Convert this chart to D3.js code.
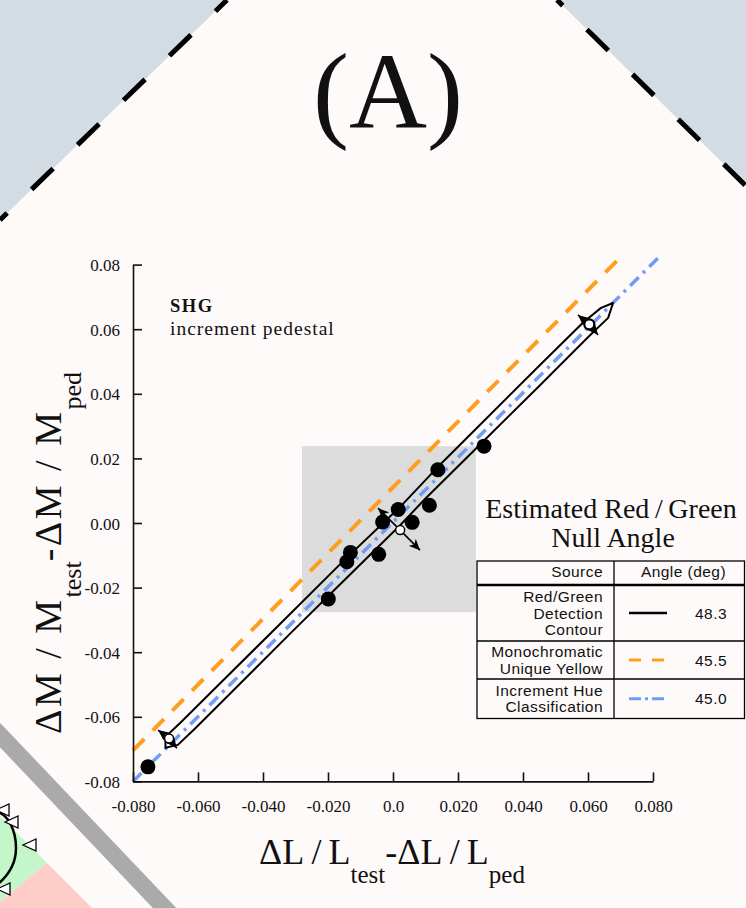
<!DOCTYPE html>
<html><head><meta charset="utf-8">
<script src="https://cdn.jsdelivr.net/npm/d3@7"></script>
<style>body{margin:0;background:#fffafa;} svg{display:block}</style>
</head><body><svg id="c" width="746" height="908"></svg>
<script>
// ---------- data ----------
const xTickValues = [-0.08,-0.06,-0.04,-0.02,0,0.02,0.04,0.06,0.08];
const xTickLabels = ["-0.080","-0.060","-0.040","-0.020","0.0","0.020","0.040","0.060","0.080"];
const yTickValues = [0.08,0.06,0.04,0.02,0,-0.02,-0.04,-0.06,-0.08];
const yTickLabels = ["0.08","0.06","0.04","0.02","0.00","-0.02","-0.04","-0.06","-0.08"];

// detection thresholds (black dots)
const threshX = [-0.0754,-0.0199,-0.0142,-0.0131,-0.0044,-0.0032,0.0016,0.0059,0.0112,0.0138,0.0280];
const threshY = [-0.0755,-0.0235,-0.0120,-0.0091,-0.0097,0.0003,0.0042,0.0002,0.0055,0.0165,0.0238];

// pedestal points (white circles)
const pedX = [-0.0689, 0.0022, 0.0604];
const pedY = [-0.0667, -0.0022, 0.0615];
// arrows from pedestals (index, end x, end y)
const arrowPed = [0,0,1,1,2,2];
const arrowEndX = [-0.0723,-0.0665,-0.0046,0.0083,0.0569,0.0631];
const arrowEndY = [-0.0641,-0.0697,0.0046,-0.0084,0.0644,0.0582];

// detection contour outline (upper edge then lower edge)
const contourX = [-0.0700,-0.0655,-0.0350,-0.0150,0.0022,0.0150,0.0268,0.0450,0.0585,0.0640,0.0677,
                  0.0662,0.0603,0.0450,0.0268,0.0100,0.0022,-0.0150,-0.0308,-0.0480,-0.0609,-0.0662,-0.0700];
const contourY = [-0.0662,-0.0619,-0.0315,-0.0115,0.0050,0.0186,0.0304,0.0487,0.0621,0.0666,0.0681,
                  0.0635,0.0578,0.0424,0.0243,0.0076,-0.0007,-0.0177,-0.0334,-0.0507,-0.0636,-0.0687,-0.0696];

// unique yellow and increment hue lines
const uyX = [-0.08, 0.0700], uyY = [-0.0704, 0.0823];
const ihX = [-0.08, 0.0815], ihY = [-0.08, 0.082];

// zoom box
const boxX = [-0.028, 0.0255], boxY = [-0.0276, 0.0238];

// legend table
const legSource = [["Red/Green","Detection","Contour"],["Monochromatic","Unique Yellow"],["Increment Hue","Classification"]];
const legAngle = ["48.3","45.5","45.0"];

// ---------- drawing ----------
const svg = d3.select("#c");
const W = 746, H = 908;
svg.append("rect").attr("width",W).attr("height",H).attr("fill","#fffafa");

// corner decorations
const cornerFill = "#d4dce3";
svg.append("path").attr("d","M0,0 L227,0 L0,220 Z").attr("fill",cornerFill);
svg.append("path").attr("d","M557,0 L746,0 L746,186 Z").attr("fill",cornerFill);
svg.append("line").attr("x1",0).attr("y1",220).attr("x2",227).attr("y2",0)
  .attr("stroke","#000").attr("stroke-width",5).attr("stroke-dasharray","30,34").attr("stroke-dashoffset",20);
svg.append("line").attr("x1",557).attr("y1",0).attr("x2",746).attr("y2",186)
  .attr("stroke","#000").attr("stroke-width",5).attr("stroke-dasharray","30,34").attr("stroke-dashoffset",22);

// bottom-left fragment of neighbouring panel
svg.append("path").attr("d","M0,816 L47,863 L0,902 Z").attr("fill","#c3f7c9");
svg.append("path").attr("d","M0,902 L47,863 L92,908 L0,908 Z").attr("fill","#ffcdc8");
svg.append("line").attr("x1",-20).attr("y1",714).attr("x2",195).attr("y2",940)
  .attr("stroke","#aaaaaa").attr("stroke-width",17);
svg.append("path").attr("d","M-2,812 C8,815 16,830 16,848 C16,862 10,874 -2,884")
  .attr("fill","none").attr("stroke","#000").attr("stroke-width",2.5);
[[3,810],[12,822],[30,845],[4,889]].forEach(p=>{
  svg.append("path").attr("d",`M${p[0]-7},${p[1]} L${p[0]+6},${p[1]-6} L${p[0]+6},${p[1]+6} Z`)
    .attr("fill","#fff").attr("stroke","#000").attr("stroke-width",1.3);
});

// scales
const x = d3.scaleLinear().domain([-0.08,0.08]).range([133,653]);
const y = d3.scaleLinear().domain([-0.08,0.08]).range([781.4,264.6]);

// zoom box
svg.append("rect").attr("x",x(boxX[0])).attr("y",y(boxY[1]))
  .attr("width",x(boxX[1])-x(boxX[0])).attr("height",y(boxY[0])-y(boxY[1]))
  .attr("fill","#dcdcdc");

const line = d3.line().x(d=>x(d[0])).y(d=>y(d[1]));
// unique yellow
svg.append("path").attr("d",line(d3.zip(uyX,uyY))).attr("fill","none")
  .attr("stroke","#ff9d1e").attr("stroke-width",4).attr("stroke-dasharray","16,12");
// increment hue
svg.append("path").attr("d",line(d3.zip(ihX,ihY))).attr("fill","none")
  .attr("stroke","#6f9cf7").attr("stroke-width",3.5).attr("stroke-dasharray","12,6,3,6");
// contour
svg.append("path").attr("d",line(d3.zip(contourX,contourY))+"Z").attr("fill","none")
  .attr("stroke","#000").attr("stroke-width",2).attr("stroke-linejoin","round");

// threshold dots
svg.selectAll("circle.th").data(d3.zip(threshX,threshY)).join("circle").attr("class","th")
  .attr("cx",d=>x(d[0])).attr("cy",d=>y(d[1])).attr("r",7.5).attr("fill","#000");

// arrows
svg.append("defs").append("marker").attr("id","ah").attr("markerUnits","userSpaceOnUse")
  .attr("markerWidth",12).attr("markerHeight",10).attr("refX",11).attr("refY",5).attr("orient","auto")
  .append("path").attr("d","M0,0 L11,5 L0,10 L3,5 Z").attr("fill","#000");
arrowPed.forEach((pi,i)=>{
  svg.append("line").attr("x1",x(pedX[pi])).attr("y1",y(pedY[pi]))
    .attr("x2",x(arrowEndX[i])).attr("y2",y(arrowEndY[i]))
    .attr("stroke","#000").attr("stroke-width",1.6).attr("marker-end","url(#ah)");
});
// pedestal circles
svg.selectAll("circle.ped").data(d3.zip(pedX,pedY)).join("circle").attr("class","ped")
  .attr("cx",d=>x(d[0])).attr("cy",d=>y(d[1])).attr("r",(d,i)=>i===2?5:4.5)
  .attr("fill","#fff").attr("stroke","#000").attr("stroke-width",(d,i)=>i===2?2.2:1.5);

// axes
const serif = "'Palatino Linotype','Book Antiqua',Palatino,'Liberation Serif','Times New Roman',serif";
const xAxis = d3.axisBottom(x).tickValues(xTickValues).tickFormat((d,i)=>xTickLabels[i])
  .tickSizeInner(-9).tickSizeOuter(0).tickPadding(18.5);
const gx = svg.append("g").attr("transform",`translate(0,${y(-0.08)})`).call(xAxis);
const yAxis = d3.axisLeft(y).tickValues(yTickValues).tickFormat((d,i)=>yTickLabels[i])
  .tickSizeInner(-9).tickSizeOuter(0).tickPadding(13);
const gy = svg.append("g").attr("transform",`translate(${x(-0.08)},0)`).call(yAxis);
[gx,gy].forEach(g=>{
  g.select(".domain").attr("stroke","#111").attr("stroke-width",1.6);
  g.selectAll(".tick line").attr("stroke","#111").attr("stroke-width",1.6);
  g.selectAll("text").attr("font-family",serif).attr("font-size",17).attr("fill","#111");
});
gy.selectAll(".tick text").attr("dy","0.36em");

// title
svg.append("text").attr("x",388).attr("y",128).attr("text-anchor","middle")
  .attr("font-family",serif).attr("font-size",108).attr("fill","#111").text("(A)");

// annotation
svg.append("text").attr("x",170).attr("y",312).attr("font-family",serif).attr("font-weight","bold")
  .attr("font-size",18.5).attr("letter-spacing",1.5).attr("fill","#111").text("SHG");
svg.append("text").attr("x",170).attr("y",335).attr("font-family",serif)
  .attr("font-size",19.5).attr("letter-spacing",1).attr("fill","#111").text("increment pedestal");

// axis labels
function axisLabel(sel, a, sp, ls, fs, sfs, dy){
  sel.attr("font-family",serif).attr("font-size",fs).attr("fill","#111");
  sel.append("tspan").attr("letter-spacing",ls).text("\u0394"+a+sp+"/"+sp+a);
  sel.append("tspan").attr("dy",dy).attr("font-size",sfs).text("test");
  sel.append("tspan").attr("dy",-dy).attr("letter-spacing",ls).text("-\u0394"+a+sp+"/"+sp+a);
  sel.append("tspan").attr("dy",dy).attr("font-size",sfs).text("ped");
}
axisLabel(svg.append("text").attr("x",392).attr("y",864).attr("text-anchor","middle"),"L","\u2009",0,36,25,19);
axisLabel(svg.append("text").attr("transform","translate(61,553) rotate(-90)").attr("text-anchor","middle"),"M"," ",2.5,38,26,20);

// legend
const lg = svg.append("g");
lg.append("text").attr("x",611).attr("y",518).attr("text-anchor","middle").attr("font-family",serif)
  .attr("font-size",28).attr("fill","#111").text("Estimated Red\u2009/\u2009Green");
lg.append("text").attr("x",613).attr("y",547).attr("text-anchor","middle").attr("font-family",serif)
  .attr("font-size",28).attr("fill","#111").text("Null Angle");
const tx0=477, tx1=614, tx2=744.5;
const ty = [561,585,641,679,718.5];
lg.append("rect").attr("x",tx0).attr("y",ty[0]).attr("width",tx2-tx0).attr("height",ty[4]-ty[0])
  .attr("fill","#fffafa").attr("stroke","#000").attr("stroke-width",1.3);
lg.append("line").attr("x1",tx1).attr("x2",tx1).attr("y1",ty[0]).attr("y2",ty[4]).attr("stroke","#000").attr("stroke-width",1.3);
lg.append("line").attr("x1",tx0).attr("x2",tx2).attr("y1",ty[1]).attr("y2",ty[1]).attr("stroke","#000").attr("stroke-width",2.6);
[2,3].forEach(k=>lg.append("line").attr("x1",tx0).attr("x2",tx2).attr("y1",ty[k]).attr("y2",ty[k]).attr("stroke","#000").attr("stroke-width",1.3));
const sans = "'Liberation Sans',Arial,Helvetica,sans-serif";
const fsz = 15.5, lsp = 0.45;
lg.append("text").attr("x",603).attr("y",577).attr("text-anchor","end").attr("font-family",sans).attr("font-size",fsz).attr("letter-spacing",lsp).attr("fill","#111").text("Source");
lg.append("text").attr("x",726).attr("y",577).attr("text-anchor","end").attr("font-family",sans).attr("font-size",fsz).attr("letter-spacing",lsp).attr("fill","#111").text("Angle (deg)");
const lineStyles = [{c:"#000",w:2.6,d:null},{c:"#ff9d1e",w:3,d:"12,11"},{c:"#6f9cf7",w:3,d:"12,4,3,4"}];
legSource.forEach((rows,i)=>{
  const mid = (ty[i+1]+ty[i+2])/2;
  const n = rows.length;
  rows.forEach((t,j)=>{
    lg.append("text").attr("x",603).attr("y",mid + (j-(n-1)/2)*16.3 + 5.5).attr("text-anchor","end")
      .attr("font-family",sans).attr("font-size",fsz).attr("letter-spacing",lsp).attr("fill","#111").text(t);
  });
  lg.append("text").attr("x",727).attr("y",mid+5.5).attr("text-anchor","end")
    .attr("font-family",sans).attr("font-size",fsz).attr("letter-spacing",lsp).attr("fill","#111").text(legAngle[i]);
  const s = lineStyles[i];
  lg.append("line").attr("x1",629).attr("x2",667).attr("y1",mid).attr("y2",mid)
    .attr("stroke",s.c).attr("stroke-width",s.w).attr("stroke-dasharray",s.d);
});
</script></body></html>
